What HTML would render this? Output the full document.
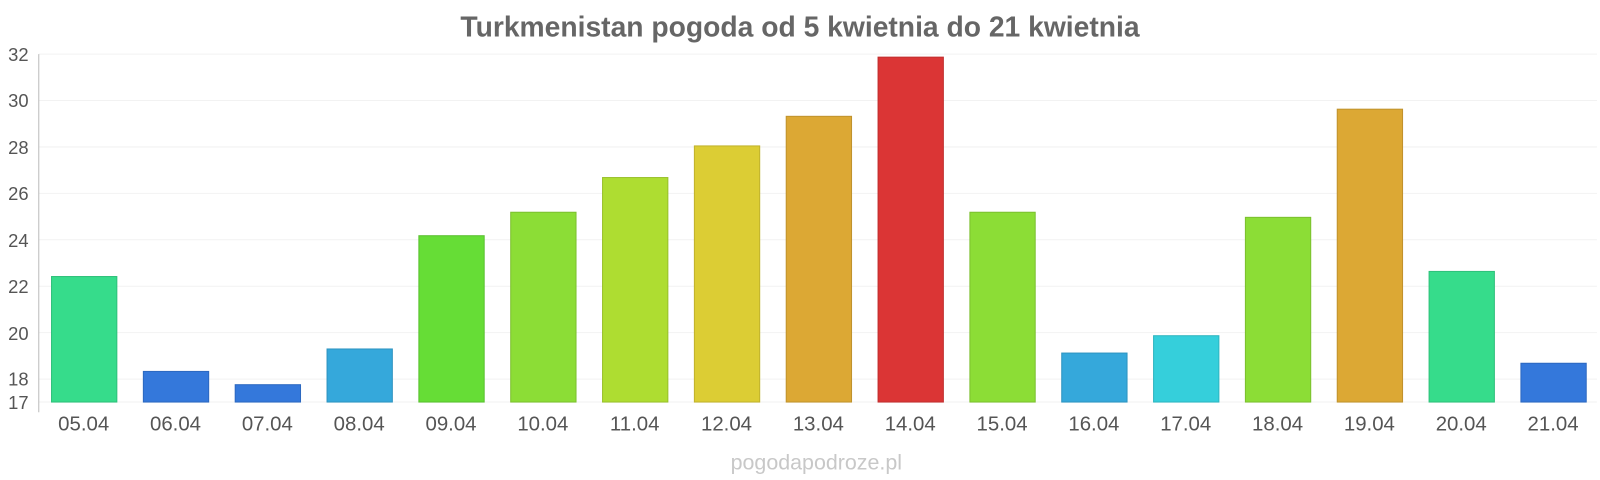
<!DOCTYPE html>
<html><head><meta charset="utf-8"><style>
body{margin:0;background:#fff;}
svg{display:block;}
svg text{font-family:"Liberation Sans",sans-serif;}
</style></head><body>
<svg width="1600" height="480" viewBox="0 0 1568 470.4" preserveAspectRatio="none" xmlns="http://www.w3.org/2000/svg">
<text x="784" y="36" text-anchor="middle" font-size="27.7" font-weight="bold" fill="#666">Turkmenistan pogoda od 5 kwietnia do 21 kwietnia</text>
<g stroke="#f2f2f2" stroke-width="1">
<line x1="38" x2="1565" y1="53" y2="53"/><line x1="38" x2="1565" y1="98.5" y2="98.5"/>
<line x1="38" x2="1565" y1="144" y2="144"/><line x1="38" x2="1565" y1="189.5" y2="189.5"/>
<line x1="38" x2="1565" y1="235" y2="235"/><line x1="38" x2="1565" y1="280.5" y2="280.5"/>
<line x1="38" x2="1565" y1="326" y2="326"/><line x1="38" x2="1565" y1="371.5" y2="371.5"/>
<line x1="38" x2="1565" y1="394" y2="394"/>
</g>
<line x1="38" x2="38" y1="53" y2="404" stroke="#bbb"/>
<g font-size="18" fill="#555" text-anchor="end">
<text x="28" y="60">32</text><text x="28" y="105">30</text><text x="28" y="151">28</text>
<text x="28" y="196">26</text><text x="28" y="242">24</text><text x="28" y="287">22</text>
<text x="28" y="333">20</text><text x="28" y="378">18</text><text x="28" y="401">17</text>
</g>
<g stroke-width="1">
<rect x="50.5" y="271" width="64" height="123" fill="#36dc8b" stroke="#2ec07a"/>
<rect x="140.5" y="364" width="64" height="30" fill="#3478db" stroke="#2c68c0"/>
<rect x="230.5" y="377" width="64" height="17" fill="#3478db" stroke="#2c68c0"/>
<rect x="320.5" y="342" width="64" height="52" fill="#35a8db" stroke="#2d93c0"/>
<rect x="410.5" y="231" width="64" height="163" fill="#66dd36" stroke="#58c02e"/>
<rect x="500.5" y="208" width="64" height="186" fill="#8cdd36" stroke="#7bc02e"/>
<rect x="590.5" y="174" width="64" height="220" fill="#aedd31" stroke="#98c02a"/>
<rect x="680.5" y="143" width="64" height="251" fill="#dccd34" stroke="#c0b22d"/>
<rect x="770.5" y="114" width="64" height="280" fill="#dca834" stroke="#c0922d"/>
<rect x="860.5" y="56" width="64" height="338" fill="#db3535" stroke="#c02e2e"/>
<rect x="950.5" y="208" width="64" height="186" fill="#8cdd36" stroke="#7bc02e"/>
<rect x="1040.5" y="346" width="64" height="48" fill="#35a8db" stroke="#2d93c0"/>
<rect x="1130.5" y="329" width="64" height="65" fill="#35cfdb" stroke="#2db5c0"/>
<rect x="1220.5" y="213" width="64" height="181" fill="#8cdd36" stroke="#7bc02e"/>
<rect x="1310.5" y="107" width="64" height="287" fill="#dca834" stroke="#c0922d"/>
<rect x="1400.5" y="266" width="64" height="128" fill="#36dc8b" stroke="#2ec07a"/>
<rect x="1490.5" y="356" width="64" height="38" fill="#3478db" stroke="#2c68c0"/>
</g>
<g font-size="20" fill="#555" text-anchor="middle">
<text x="82" y="422">05.04</text><text x="172" y="422">06.04</text><text x="262" y="422">07.04</text>
<text x="352" y="422">08.04</text><text x="442" y="422">09.04</text><text x="532" y="422">10.04</text>
<text x="622" y="422">11.04</text><text x="712" y="422">12.04</text><text x="802" y="422">13.04</text>
<text x="892" y="422">14.04</text><text x="982" y="422">15.04</text><text x="1072" y="422">16.04</text>
<text x="1162" y="422">17.04</text><text x="1252" y="422">18.04</text><text x="1342" y="422">19.04</text>
<text x="1432" y="422">20.04</text><text x="1522" y="422">21.04</text>
</g>
<text x="800" y="460" text-anchor="middle" font-size="21" fill="#c8c8c8">pogodapodroze.pl</text>
</svg>
</body></html>
